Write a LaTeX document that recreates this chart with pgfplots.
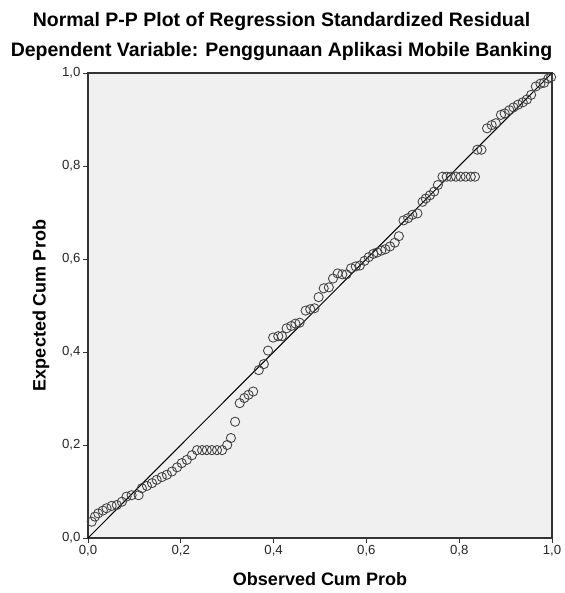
\documentclass[border=0pt]{standalone}
\usepackage{pgfplots}
\pgfplotsset{compat=1.18}
\usepackage{fontspec}
\setmainfont{Liberation Sans}
\definecolor{plotbg}{HTML}{F0F0F0}
\begin{document}
\begin{tikzpicture}
\begin{axis}[
  scale only axis,
  width=464pt, height=465pt,
  xmin=0, xmax=1, ymin=0, ymax=1,
  axis background/.style={fill=plotbg},
  axis line style={black!80, line width=1.1pt},
  xtick={0,0.2,0.4,0.6,0.8,1}, ytick={0,0.2,0.4,0.6,0.8,1},
  tick pos=left, tick align=outside, major tick length=5pt,
  tick style={black!80, line width=0.9pt},
  /pgf/number format/assume math mode=true,
  /pgf/number format/use comma, /pgf/number format/fixed,
  /pgf/number format/fixed zerofill, /pgf/number format/precision=1,
  ticklabel style={font=\fontsize{13.2}{14}\selectfont, text=black!85},
  xticklabel style={yshift=1pt},
  yticklabel style={xshift=1pt},
  xlabel={\bfseries Observed Cum Prob},
  ylabel={\bfseries Expected Cum Prob},
  label style={font=\fontsize{18}{20}\selectfont},
  xlabel style={yshift=-9pt},
  ylabel style={yshift=6pt},
  clip=false,
]
\addplot[black, line width=1pt, no marks] coordinates {(0,0) (1,1)};
\addplot[only marks, mark=o, mark size=4.6pt, mark options={draw=black!75, line width=0.85pt}] coordinates {
(0.008,0.035) (0.015,0.046) (0.022,0.053) (0.032,0.059) (0.040,0.064)
(0.051,0.069) (0.062,0.071) (0.073,0.078) (0.083,0.089) (0.094,0.092)
(0.109,0.092) (0.116,0.107) (0.127,0.112) (0.138,0.118) (0.148,0.125)
(0.159,0.131) (0.170,0.136) (0.181,0.143) (0.192,0.152) (0.202,0.161)
(0.213,0.168) (0.224,0.178) (0.235,0.189) (0.246,0.189) (0.256,0.189)
(0.267,0.189) (0.278,0.189) (0.289,0.189) (0.300,0.200) (0.308,0.215)
(0.317,0.250) (0.327,0.290) (0.337,0.301) (0.346,0.308) (0.356,0.315)
(0.368,0.361) (0.379,0.374) (0.388,0.403) (0.399,0.431) (0.410,0.434)
(0.418,0.434) (0.428,0.451) (0.438,0.456) (0.447,0.461) (0.456,0.463)
(0.469,0.489) (0.479,0.492) (0.488,0.494) (0.497,0.518) (0.508,0.537)
(0.519,0.539) (0.528,0.558) (0.538,0.569) (0.548,0.567) (0.557,0.567)
(0.567,0.580) (0.577,0.584) (0.586,0.586) (0.596,0.596) (0.605,0.604)
(0.615,0.611) (0.623,0.614) (0.632,0.618) (0.641,0.621) (0.651,0.627)
(0.661,0.635) (0.670,0.649) (0.680,0.683) (0.690,0.688) (0.699,0.695)
(0.710,0.698) (0.721,0.723) (0.728,0.730) (0.737,0.737) (0.746,0.745)
(0.754,0.759) (0.764,0.777) (0.773,0.777) (0.782,0.777) (0.793,0.777)
(0.803,0.777) (0.814,0.777) (0.825,0.777) (0.834,0.777) (0.839,0.835)
(0.848,0.835) (0.860,0.881) (0.870,0.888) (0.879,0.892) (0.890,0.910)
(0.898,0.913) (0.908,0.920) (0.917,0.926) (0.927,0.932) (0.937,0.937)
(0.946,0.943) (0.955,0.953) (0.965,0.971) (0.975,0.977) (0.983,0.979)
(0.992,0.988) (0.998,0.991)
};
\end{axis}
\path (current axis.south west) ++(-88pt,-55pt) coordinate (bl);
\path (current axis.north east) ++(11pt,73pt) coordinate (tr);
\path (bl) rectangle (tr);
\path (current axis.north west) ++(193.5pt,51pt) node[font=\bfseries\fontsize{19.5}{21}\selectfont] {Normal P-P Plot of Regression Standardized Residual};
\path (current axis.north west) ++(193.5pt,21pt) node[font=\bfseries\fontsize{19.5}{21}\selectfont] {Dependent Variable: Penggunaan Aplikasi Mobile Banking};
\end{tikzpicture}
\end{document}
